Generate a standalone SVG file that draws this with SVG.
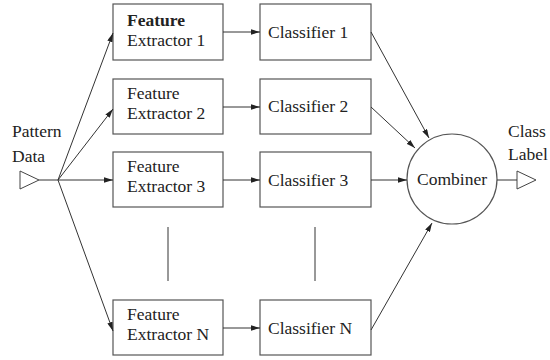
<svg xmlns="http://www.w3.org/2000/svg" width="550" height="360" viewBox="0 0 550 360">
<style>
.box{fill:#fff;stroke:#555;stroke-width:1.2}
.t{font-family:"Liberation Serif","Times New Roman",serif;font-size:17.5px;fill:#222}
.b{font-weight:bold}
.c{stroke:#333;stroke-width:1;fill:none}
.tri{fill:#fff;stroke:#444;stroke-width:1}
</style>
<defs>
<marker id="ah" viewBox="0 0 10 6" refX="10" refY="3" markerWidth="9" markerHeight="5.4" markerUnits="userSpaceOnUse" orient="auto">
<path d="M0,0 L10,3 L0,6 Z" fill="#222"/>
</marker>
</defs>
<rect width="550" height="360" fill="#fff"/>
<g id="input">
<text class="t" x="12" y="137">Pattern</text>
<text class="t" x="12" y="162">Data</text>
<polygon class="tri" points="20,171 39,180 20,189"/>
</g>
<g id="fe1"><rect class="box" x="113" y="4" width="110" height="56"/><text class="t b" x="127" y="26">Feature</text><text class="t" x="127" y="46">Extractor 1</text></g>
<g id="fe2"><rect class="box" x="113" y="79" width="110" height="55"/><text class="t" x="127" y="99">Feature</text><text class="t" x="127" y="119">Extractor 2</text></g>
<g id="fe3"><rect class="box" x="113" y="152" width="110" height="55"/><text class="t" x="127" y="172">Feature</text><text class="t" x="127" y="192">Extractor 3</text></g>
<g id="feN"><rect class="box" x="113" y="300" width="110" height="55"/><text class="t" x="127" y="320">Feature</text><text class="t" x="127" y="340">Extractor N</text></g>
<g id="cl1"><rect class="box" x="260" y="4" width="111" height="56"/><text class="t" x="268" y="38">Classifier 1</text></g>
<g id="cl2"><rect class="box" x="260" y="79" width="111" height="55"/><text class="t" x="268" y="112">Classifier 2</text></g>
<g id="cl3"><rect class="box" x="260" y="152" width="111" height="55"/><text class="t" x="268" y="186">Classifier 3</text></g>
<g id="clN"><rect class="box" x="260" y="300" width="111" height="55"/><text class="t" x="268" y="334">Classifier N</text></g>
<g id="combiner"><circle class="box" cx="452" cy="179" r="45"/><text class="t" x="452" y="185" text-anchor="middle">Combiner</text></g>
<g id="output">
<text class="t" x="508" y="137">Class</text>
<text class="t" x="508" y="160">Label</text>
<polygon class="tri" points="517,171 536,180 517,189"/>
</g>
<g id="connectors">
<line class="c" x1="39" y1="180" x2="58" y2="180"/>
<line class="c" x1="58" y1="180" x2="113" y2="33" marker-end="url(#ah)"/>
<line class="c" x1="58" y1="180" x2="113" y2="109" marker-end="url(#ah)"/>
<line class="c" x1="58" y1="180" x2="113" y2="180" marker-end="url(#ah)"/>
<line class="c" x1="58" y1="180" x2="113" y2="331" marker-end="url(#ah)"/>
<line class="c" x1="223" y1="32" x2="260" y2="32" marker-end="url(#ah)"/>
<line class="c" x1="223" y1="107" x2="260" y2="107" marker-end="url(#ah)"/>
<line class="c" x1="223" y1="180" x2="260" y2="180" marker-end="url(#ah)"/>
<line class="c" x1="223" y1="328" x2="260" y2="328" marker-end="url(#ah)"/>
<line class="c" x1="371" y1="32" x2="429" y2="138" marker-end="url(#ah)"/>
<line class="c" x1="371" y1="107" x2="415" y2="148" marker-end="url(#ah)"/>
<line class="c" x1="371" y1="180" x2="407" y2="180" marker-end="url(#ah)"/>
<line class="c" x1="371" y1="330" x2="432" y2="223" marker-end="url(#ah)"/>
<line class="c" x1="497" y1="180" x2="517" y2="180"/>
<line class="c" x1="168" y1="227" x2="168" y2="281"/>
<line class="c" x1="315" y1="227" x2="315" y2="281"/>
</g>
</svg>
